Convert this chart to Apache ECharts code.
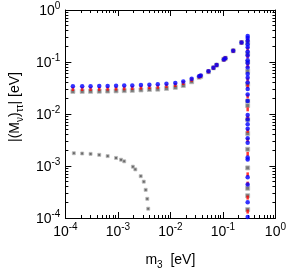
<!DOCTYPE html>
<html><head><meta charset="utf-8">
<script src="https://cdn.jsdelivr.net/npm/echarts@6/dist/echarts.min.js"></script>
<style>html,body{margin:0;padding:0;background:#fff}#c{width:289px;height:275px}</style>
</head><body><div id="c"></div>
<script>
// ---- data ----
var m3Main = [1.39e-4, 2.09e-4, 3.02e-4, 4.42e-4, 6.38e-4, 9.23e-4, 1.32e-3, 1.88e-3, 2.75e-3, 3.98e-3, 5.75e-3, 8.41e-3, 0.0124, 0.0176, 0.0254, 0.0353, 0.0378, 0.0531, 0.066, 0.0759, 0.104, 0.111, 0.157, 0.226];
var blueMain = [0.0343, 0.0343, 0.0343, 0.0345, 0.0347, 0.0349, 0.0352, 0.0355, 0.0360, 0.0366, 0.0373, 0.0383, 0.0395, 0.0422, 0.0477, 0.0533, 0.0548, 0.0663, 0.0772, 0.0873, 0.112, 0.118, 0.164, 0.237];
var redMain = [0.0303, 0.0303, 0.0304, 0.0305, 0.0307, 0.0309, 0.0312, 0.0316, 0.0322, 0.0328, 0.0335, 0.0348, 0.0362, 0.0395, 0.0455, 0.0525, 0.054, 0.066, 0.0772, 0.0873, 0.112, 0.118, 0.164, 0.237];
var grayMain = [0.0272, 0.0272, 0.0273, 0.0274, 0.0276, 0.0278, 0.0281, 0.0285, 0.0290, 0.0296, 0.0300, 0.0310, 0.0325, 0.0353, 0.0417, 0.051, 0.053, 0.065, 0.0772, 0.0873, 0.112, 0.118, 0.164, 0.237];
var m3Edge = 0.296;
var blueEdge = [0.316, 0.291, 0.257, 0.218, 0.193, 0.157, 0.133, 0.1086, 0.096, 0.0781, 0.0586, 0.0497, 0.0405, 0.0304, 0.0237, 0.0178, 0.0096, 0.00781, 0.00637, 0.00518, 0.00343, 0.00279, 0.00145, 0.00133, 0.00061, 0.00044, 0.000201, 0.000104];
var redEdge = [0.268, 0.178, 0.128, 0.0848, 0.0458, 0.0343, 0.0218, 0.0123, 0.00849, 0.00477, 0.00316, 0.00171, 0.00069, 0.000458, 0.000247, 0.000133];
var grayEdge = [0.237, 0.145, 0.100, 0.0663, 0.0373, 0.0178, 0.0145, 0.00781, 0.00422, 0.0021, 0.00092, 0.000373, 0.000268, 0.000145];
var m3Low = [1.45e-4, 2.09e-4, 3.02e-4, 4.42e-4, 6.38e-4, 9.23e-4, 1.15e-3, 1.32e-3, 1.93e-3, 2.15e-3, 2.72e-3, 3.11e-3, 3.38e-3, 3.63e-3, 3.78e-3];
var grayLow = [1.76e-3, 1.74e-3, 1.71e-3, 1.64e-3, 1.55e-3, 1.43e-3, 1.32e-3, 1.23e-3, 9.7e-4, 8.6e-4, 6.37e-4, 5.0e-4, 3.48e-4, 2.34e-4, 1.51e-4];
var xTicks = [1e-4, 1e-3, 1e-2, 1e-1, 1];
var yTicks = [1e-4, 1e-3, 1e-2, 1e-1, 1];

// ---- build ----
function pairs(xs, ys) { return ys.map(function (y, i) { return [Array.isArray(xs) ? xs[i] : xs, y]; }); }
var minorVals = [];
for (var d = -4; d < 0; d++) for (var k = 2; k <= 9; k++) minorVals.push(k * Math.pow(10, d));
var FONT = 'Liberation Sans';
function expFmt(v) {
  var e = Math.round(Math.log10(v));
  return '{b|10}{s|' + e + '}';
}
var rich = {
  b: { fontSize: 14, fontFamily: FONT, color: '#000', verticalAlign: 'bottom', lineHeight: 16 },
  s: { fontSize: 10, fontFamily: FONT, color: '#000', verticalAlign: 'bottom', lineHeight: 16, padding: [0, 0, 7, 0] }
};
function mkAxis(pos, isX, major, labels, name) {
  var a = {
    type: 'log', logBase: 10, min: 1e-4, max: 1, position: pos,
    axisLine: { show: major, lineStyle: { color: '#000', width: 1 } },
    axisTick: { show: true, inside: true, length: major ? 6 : 3, customValues: major ? (isX ? xTicks : yTicks) : minorVals, lineStyle: { color: '#000', width: 1 } },
    axisLabel: { show: labels, customValues: isX ? xTicks : yTicks, formatter: expFmt, rich: rich, margin: 5 },
    splitLine: { show: false },
    minorTick: { show: false }
  };
  if (name) {
    a.name = name.text; a.nameLocation = 'middle'; a.nameGap = name.gap;
    a.nameTextStyle = { fontFamily: FONT, fontSize: 14, color: '#000', rich: name.rich, padding: name.padding || 0 };
  }
  return a;
}
var subRich = {
  a: { fontSize: 14, fontFamily: FONT, color: '#000', verticalAlign: 'bottom', lineHeight: 18 },
  u: { fontSize: 10, fontFamily: FONT, color: '#000', verticalAlign: 'bottom', lineHeight: 18, padding: [0, 0, -3, 0] }
};
var option = {
  animation: false,
  backgroundColor: '#fff',
  grid: { left: 53, right: 11, top: 10, bottom: 41, containLabel: false },
  xAxis: [
    mkAxis('bottom', true, true, true, { text: '{a|m}{u|3}{a|  [eV]}', gap: 31, rich: subRich }),
    mkAxis('bottom', true, false, false),
    mkAxis('top', true, true, false),
    mkAxis('top', true, false, false)
  ],
  yAxis: [
    mkAxis('left', false, true, true, { text: '{a||(M}{u|ν}{a|)}{u|ττ}{a|| [eV]}', gap: 37, rich: subRich, padding: [0, 0, 0, 14] }),
    mkAxis('left', false, false, false),
    mkAxis('right', false, true, false),
    mkAxis('right', false, false, false)
  ],
  series: [
    { type: 'scatter', name: 'low', data: pairs(m3Low, grayLow), symbol: 'rect', symbolSize: 3, itemStyle: { color: '#444', borderColor: '#bbb', borderWidth: 1 } },
    { type: 'scatter', name: 'gray', data: pairs(m3Main, grayMain).concat(pairs(m3Edge, grayEdge)), symbol: 'rect', symbolSize: 4, itemStyle: { color: '#555', borderColor: '#bbb', borderWidth: 1 } },
    { type: 'scatter', name: 'red', data: pairs(m3Main, redMain).concat(pairs(m3Edge, redEdge)), symbol: 'rect', symbolSize: [2.5, 4], itemStyle: { color: '#ff0000' } },
    { type: 'scatter', name: 'blue', data: pairs(m3Main, blueMain).concat(pairs(m3Edge, blueEdge)), symbol: 'circle', symbolSize: 4.5, itemStyle: { color: '#0000ff' } }
  ]
};
var chart = echarts.init(document.getElementById('c'), null, { renderer: 'canvas' });
chart.setOption(option);
</script></body></html>
